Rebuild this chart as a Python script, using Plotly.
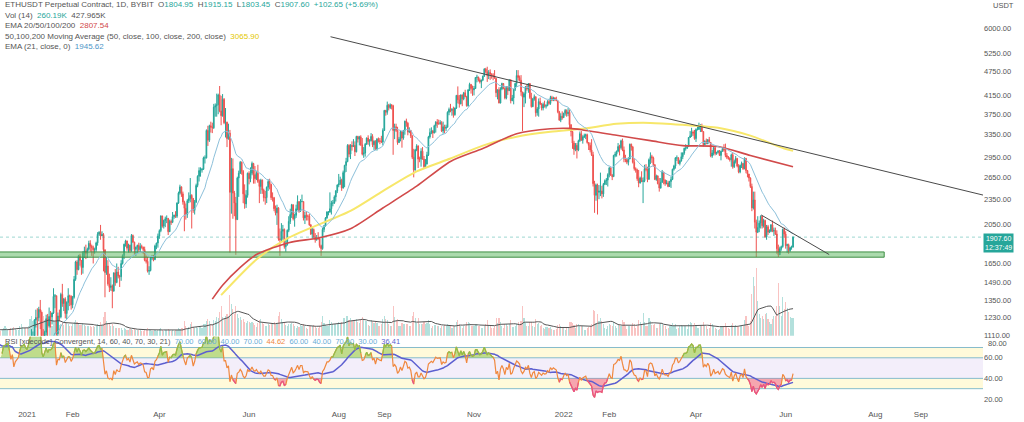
import numpy as np
import pandas as pd
import plotly.graph_objects as go

# ---------------- data (daily candles) ----------------
start_date = "2020-12-01"
first_open = 615

close = [
 588,598,616,569,596,601,592,554,573,560,545,568,590,586,589,636,642,654,658,638,609,635,584,612,626,636,683,731,732,751,737,
 730,775,980,1040,1100,1208,1225,1224,1281,1262,1088,1045,1130,1218,1171,1233,1230,1257,1377,1382,1121,1236,1230,1392,1324,1357,1253,1332,1382,1377,1314,
 1370,1512,1664,1595,1722,1678,1614,1750,1768,1744,1784,1843,1815,1800,1779,1781,1848,1937,1960,1920,1935,1780,1570,1627,1475,1446,1459,1417,
 1567,1487,1574,1540,1534,1650,1724,1834,1868,1795,1825,1771,1924,1855,1783,1805,1823,1780,1812,1805,1782,1680,1670,1582,1587,1700,1716,1686,1817,1846,1918,
 1977,2143,2027,2090,2110,2114,1965,2080,2070,2135,2150,2140,2300,2430,2515,2420,2315,2235,2160,2330,2360,2400,2360,2210,2315,2535,2665,2750,2760,2770,
 2950,2950,3430,3250,3520,3490,3480,3900,3930,3950,4170,3820,3720,4070,3580,3590,3280,3380,2440,2780,2430,2300,2100,2640,2710,2880,2740,2420,2290,2400,2710,
 2630,2710,2860,2690,2630,2710,2590,2520,2610,2470,2370,2370,2510,2590,2550,2370,2370,2230,2180,2240,1890,1880,1970,1990,1810,1830,1980,2080,2160,2280,
 2110,2150,2230,2320,2200,2320,2320,2120,2150,2140,2140,2040,1940,1990,1910,1880,1900,1890,1820,1790,1990,2030,2120,2190,2190,2230,2300,2300,2380,2460,2540,
 2560,2610,2500,2720,2830,2890,3160,3010,3160,3140,3160,3050,3320,3270,3310,3170,3010,3030,3180,3290,3230,3240,3320,3170,3230,3100,3270,3240,3230,3220,3430,
 3830,3790,3940,3890,3950,3930,3430,3500,3430,3210,3270,3410,3290,3430,3610,3570,3400,3430,3330,2960,2760,3080,3150,2930,2930,3060,2930,2810,2850,3000,
 3310,3390,3420,3380,3520,3590,3560,3560,3580,3420,3500,3470,3490,3790,3850,3830,3850,3740,3880,4160,4060,3970,4170,4080,4220,4130,3930,4290,4420,4320,4290,
 4320,4590,4600,4530,4480,4520,4620,4810,4740,4640,4720,4670,4650,4630,4570,4220,4290,3990,4310,4440,4320,4100,4360,4270,4520,4040,4100,4300,4440,4640,
 4590,4520,4240,4120,4200,4360,4310,4440,4110,3910,4080,4130,3780,3860,4020,3960,3880,3960,3920,3930,4020,3980,4110,4050,4100,4070,4040,3800,3630,3710,3680,
 3770,3830,3760,3790,3540,3410,3200,3090,3160,3080,3240,3370,3250,3310,3330,3350,3210,3160,3080,3000,2560,2400,2540,2440,2460,2460,2420,2550,2600,2610,2690,
 2790,2680,2660,2990,3010,3060,3140,3120,3240,3080,2930,2920,2880,2930,3180,3130,2880,2780,2760,2630,2570,2640,2590,2600,2780,2770,2620,2920,
 2970,2950,2840,2620,2670,2560,2500,2580,2730,2610,2560,2570,2520,2590,2620,2770,2820,2950,2950,2860,2900,2970,3030,3110,3110,3140,3300,3330,3400,3380,3280,
 3450,3450,3520,3520,3410,3170,3230,3190,3260,3210,2980,3030,3120,3020,3040,3060,2990,3060,3100,3080,2990,2960,2940,2920,3000,2810,2890,2940,2820,2730,
 2830,2860,2780,2940,2750,2700,2640,2520,2240,2340,2070,1960,2010,2060,2140,2030,2090,1910,2020,1960,1970,2040,1970,1980,1940,1790,1730,1790,1810,1990,1940,
 1820,1830,1770,1800,1805,1907.6,
]

high = [
 620,605,625,622,600,610,605,598,580,580,565,570,595,595,600,640,676,664,666,660,642,640,639,617,630,648,690,747,744,755,754,
 750,790,1010,1150,1135,1215,1280,1290,1300,1350,1265,1150,1140,1245,1250,1295,1270,1260,1440,1395,1382,1260,1280,1405,1475,1365,1370,1340,1440,1390,1385,
 1380,1540,1675,1680,1730,1740,1680,1765,1810,1830,1800,1870,1875,1830,1820,1800,1860,1960,1970,2040,1970,1950,1780,1710,1680,1560,1530,1470,
 1570,1600,1650,1620,1550,1680,1735,1840,1880,1870,1840,1830,1940,1935,1860,1810,1830,1850,1845,1830,1810,1810,1725,1710,1625,1710,1730,1730,1830,1850,1945,
 1990,2150,2145,2100,2135,2150,2120,2100,2100,2190,2160,2200,2310,2450,2545,2520,2450,2330,2295,2350,2440,2640,2415,2365,2340,2560,2680,2800,2800,2790,
 2970,2990,3450,3520,3540,3600,3580,3970,3980,4200,4200,4380,4150,4190,4100,3880,3600,3560,3440,2950,2940,2460,2380,2660,2750,2900,2890,2760,2550,2470,2720,
 2740,2800,2890,2870,2820,2740,2840,2620,2630,2620,2490,2460,2520,2620,2630,2560,2440,2380,2270,2280,2250,2000,2060,2040,2000,1880,1990,2140,2230,2290,
 2280,2170,2280,2400,2320,2350,2410,2320,2190,2200,2160,2170,2050,2010,2000,1950,1930,1960,1900,1830,2010,2040,2130,2200,2200,2440,2330,2340,2400,2470,2550,
 2700,2660,2630,2750,2840,2950,3180,3180,3180,3230,3270,3230,3330,3330,3330,3340,3290,3130,3200,3300,3340,3270,3380,3360,3250,3250,3290,3300,3290,3330,3470,
 3840,3840,4020,3970,3980,3960,3950,3560,3560,3500,3310,3430,3420,3440,3620,3660,3590,3490,3440,3340,3100,3100,3180,3160,2970,3110,3130,2980,2930,3050,
 3330,3470,3490,3440,3540,3610,3650,3640,3630,3610,3600,3540,3540,3810,3890,3970,3880,3910,3890,4170,4370,4170,4180,4180,4240,4290,4150,4300,4460,4420,4390,
 4380,4600,4660,4610,4570,4540,4640,4830,4840,4870,4780,4800,4700,4700,4780,4580,4300,4350,4350,4460,4450,4350,4380,4370,4550,4550,4170,4310,4460,4780,
 4780,4640,4650,4240,4230,4380,4420,4450,4450,4220,4100,4180,4130,3900,4090,4110,3990,4000,4040,3960,4050,4060,4150,4150,4130,4120,4130,4040,3820,3770,3810,
 3780,3860,3850,3880,3850,3550,3420,3240,3200,3200,3260,3410,3420,3340,3370,3370,3370,3210,3210,3270,3050,2600,2560,2560,2540,2720,2530,2570,2620,2640,2710,
 2810,2800,2700,3000,3050,3070,3200,3170,3260,3280,3140,3000,2950,2960,3190,3190,3150,2930,2800,2780,2760,2660,2740,2650,2840,2850,2810,2940,
 3040,3000,2970,2850,2690,2680,2640,2640,2760,2730,2620,2610,2600,2600,2660,2780,2840,2960,2990,2960,2920,3040,3040,3120,3180,3150,3300,3420,3480,3430,3440,
 3470,3530,3580,3550,3560,3410,3250,3280,3270,3310,3220,3080,3150,3130,3050,3080,3080,3070,3120,3180,3190,3030,2980,2960,3020,3030,2920,2980,2950,2850,
 2840,2890,2870,2960,2950,2760,2700,2650,2560,2450,2450,2100,2140,2090,2150,2140,2110,2100,2040,2040,1990,2050,2090,2010,2010,1980,1830,1810,1820,2000,2010,
 1970,1840,1840,1810,1820,1915.15,
]

low = [
 570,570,590,560,560,590,586,540,535,555,532,545,565,575,580,587,630,632,646,620,603,597,583,577,600,620,632,677,705,728,720,
 715,715,770,900,990,1060,1160,1050,1200,1150,950,1030,1030,1110,1100,1160,1160,1180,1250,1290,1110,1030,1200,1220,1300,1270,1220,1215,1275,1305,1280,
 1290,1360,1500,1550,1590,1630,1550,1560,1700,1690,1700,1770,1760,1720,1650,1740,1760,1820,1920,1880,1920,1580,1370,1550,1460,1410,1420,1290,
 1415,1460,1480,1520,1450,1500,1640,1690,1810,1770,1750,1750,1760,1850,1730,1720,1740,1760,1760,1790,1740,1670,1650,1570,1550,1580,1680,1670,1680,1785,1800,
 1890,1960,2010,2000,2015,2060,1930,1970,2040,2060,2110,2120,2120,2290,2410,2380,2280,1970,2100,2120,2300,2310,2000,2180,2160,2300,2510,2590,2660,2720,
 2760,2860,2940,3150,3220,3390,3380,3460,3700,3700,3750,3790,3530,3700,3550,3300,3130,3260,1750,2170,2110,2140,1730,2100,2380,2700,2690,2300,2230,2240,2370,
 2550,2580,2680,2560,2560,2610,2570,2300,2420,2420,2320,2280,2300,2460,2480,2340,2320,2200,2150,2040,1870,1720,1860,1880,1790,1760,1820,1960,2050,2120,
 2090,2020,2120,2210,2180,2190,2310,2090,2050,2090,2090,2030,1930,1890,1890,1850,1870,1880,1800,1720,1780,1960,2020,2110,2150,2180,2160,2260,2290,2320,2430,
 2510,2540,2460,2490,2510,2730,2880,2960,2930,3070,3130,2980,3040,3210,3160,3150,2990,2950,2970,3170,3170,3140,3230,3130,3080,3080,3070,3210,3180,3200,3160,
 3420,3720,3740,3830,3860,3850,3000,3270,3400,3170,3200,3230,3120,3260,3350,3500,3340,3380,3290,2930,2650,2750,3060,2790,2880,2810,2920,2780,2790,2850,
 2980,3280,3360,3290,3380,3390,3480,3540,3540,3400,3370,3380,3420,3490,3730,3790,3720,3680,3720,3860,3980,3890,3960,3920,4050,4120,3910,3910,4260,4200,4150,
 4160,4310,4470,4490,4440,4330,4510,4610,4700,4480,4550,4530,4560,4520,4560,4120,4070,3980,3980,4280,4300,4070,4070,4170,4260,3980,4030,3960,4260,4360,
 4510,4490,4150,3420,3900,3980,4270,4220,4080,3890,3900,4040,3700,3720,3700,3950,3830,3830,3890,3870,3920,3950,3950,4030,4030,4030,4030,3770,3620,3590,3640,
 3680,3720,3700,3710,3420,3320,3100,3000,3060,2940,3060,3220,3240,3190,3290,3270,3190,3080,3040,2980,2520,2180,2330,2160,2350,2390,2360,2380,2540,2540,2520,
 2650,2670,2610,2660,2960,2970,3040,2990,3090,3060,2880,2880,2850,2830,2930,3070,2860,2750,2720,2600,2510,2560,2580,2300,2580,2740,2580,2620,
 2850,2870,2810,2610,2600,2550,2450,2490,2570,2550,2530,2550,2510,2520,2500,2610,2750,2780,2900,2850,2830,2890,2930,3000,3070,3100,3130,3290,3310,3330,3260,
 3220,3430,3440,3400,3400,3140,3160,3180,3180,3200,2960,2950,2990,2990,3000,3020,2980,2910,3050,3050,2960,2930,2920,2890,2810,2780,2790,2860,2800,2710,
 2710,2790,2760,2770,2710,2650,2590,2500,2200,2220,2000,1710,1950,1960,2000,2000,2010,1900,1880,1930,1950,1960,1960,1920,1930,1740,1710,1730,1770,1800,1900,
 1790,1750,1740,1760,1780,1803.45,
]

volume_k = [
 110,90,90,110,90,70,70,110,110,80,90,70,70,70,80,120,150,110,80,90,110,110,130,100,80,90,150,180,130,120,110,
 120,140,250,300,220,200,210,250,170,220,380,300,230,200,210,160,140,150,240,200,300,250,160,170,200,160,210,190,180,150,140,
 170,210,230,210,180,160,160,190,160,150,140,150,140,130,140,130,140,180,160,200,150,280,360,220,190,170,140,180,
 150,120,110,110,120,110,90,110,100,90,90,100,100,90,100,90,80,90,80,70,70,90,90,110,100,80,70,70,80,70,90,
 100,110,90,70,80,80,100,80,70,80,70,80,90,110,100,110,120,220,140,110,130,170,210,130,120,130,120,140,130,120,
 170,170,220,250,220,180,170,230,220,280,260,350,440,280,260,290,330,300,600,480,400,320,450,320,260,280,230,250,210,190,220,
 210,190,200,190,160,130,190,230,250,190,170,150,150,170,160,190,170,210,180,170,290,360,250,200,200,160,150,180,180,190,
 170,150,120,140,130,160,150,180,150,110,100,140,150,150,160,150,110,110,150,200,290,190,160,150,140,230,200,180,170,170,180,
 200,190,200,260,260,290,300,230,260,220,220,230,250,210,190,250,280,230,220,220,160,150,230,220,190,200,190,150,150,170,250,
 300,250,230,170,150,150,450,280,220,250,150,150,190,180,180,180,180,140,140,300,350,270,190,260,170,180,170,200,180,190,
 240,170,120,150,160,160,150,140,110,140,150,160,150,170,160,140,120,150,150,200,230,180,140,120,140,150,210,210,190,150,140,
 140,180,180,150,140,120,120,150,170,240,160,140,110,110,140,270,190,260,200,140,120,180,180,150,170,240,130,130,150,180,
 200,160,220,450,270,210,150,150,200,210,150,130,250,180,190,150,160,120,100,130,130,120,130,100,80,80,100,160,170,150,130,
 110,90,110,120,200,210,190,160,120,180,170,150,150,140,90,90,110,130,140,170,380,370,190,320,220,270,220,180,120,100,140,
 170,160,150,210,140,110,160,170,150,230,200,140,100,140,150,140,190,180,120,140,240,200,180,340,210,150,150,260,
 220,160,160,170,120,110,180,190,170,160,140,100,110,150,150,190,150,170,100,110,150,160,140,150,140,100,170,200,190,160,190,
 160,120,120,140,150,210,150,140,100,110,190,170,140,120,100,90,100,140,140,140,190,150,110,100,160,190,150,160,140,140,
 150,140,150,240,290,180,140,220,620,870,740,1010,520,330,270,300,250,320,340,250,200,180,250,300,300,450,790,450,300,580,400,
 500,420,360,280,260,260,
]

# long moving averages (EMA 200 red, SMA 200 yellow)
ema200_dates = ["2021-05-07","2021-05-14","2021-05-26","2021-06-06","2021-06-28","2021-07-19","2021-08-09",
                "2021-08-31","2021-09-23","2021-10-16","2021-11-07","2021-11-30","2021-12-23","2022-01-05",
                "2022-01-14","2022-02-06","2022-03-01","2022-03-23","2022-04-16","2022-05-08","2022-06-06"]
ema200_vals = [1356,1464,1615,1733,1850,1901,1997,2239,2524,2892,3105,3369,3462,3470,3440,3340,3243,3156,3139,2989,2808]

ma200_dates = ["2021-05-13","2021-06-06","2021-06-28","2021-08-09","2021-08-31","2021-09-23","2021-10-16",
               "2021-11-07","2021-11-30","2021-12-23","2022-01-14","2022-02-06","2022-03-01","2022-03-23",
               "2022-04-16","2022-05-08","2022-05-31","2022-06-06"]
ma200_vals = [1386,1686,1901,2203,2457,2738,2939,3156,3315,3406,3462,3557,3576,3538,3480,3333,3105,3066]

# drawn objects
trend_dates = ["2021-07-26 10:00", "2022-10-13 05:00"]
trend_vals = [5744, 2404]
trend2_dates = ["2022-05-15 07:00", "2022-06-30 14:00"]
trend2_vals = [2155, 1733]
support_dates = ["2020-12-10", "2022-08-07"]
support_low, support_high = 1708, 1758
last_price = 1907.60

x_tickvals = ["2021-01-01","2021-02-01","2021-04-01","2021-06-01","2021-08-01","2021-09-01","2021-11-01",
              "2022-01-01","2022-02-01","2022-04-01","2022-06-01","2022-08-01","2022-09-01"]
x_ticktext = ["2021","Feb","Apr","Jun","Aug","Sep","Nov","2022","Feb","Apr","Jun","Aug","Sep"]
price_ticks = [6000,5250,4750,4150,3750,3350,2950,2650,2350,2050,1650,1490,1350,1230,1110]
rsi_ticks = [60,40,20]
rsi_top_label = "80.00"
rsi_levels = [70,60,40,30]

# ---------------- derived series ----------------
n = len(close)
assert len(high) == n and len(low) == n and len(volume_k) == n, (n, len(high), len(low), len(volume_k))
dates = pd.date_range(start_date, periods=n, freq="D")
open_ = [first_open] + close[:-1]
cs = pd.Series(close, dtype=float)
ema21 = cs.ewm(span=21, adjust=False).mean()
d = cs.diff()
ag = d.clip(lower=0).ewm(alpha=1/14, adjust=False).mean()
al = (-d.clip(upper=0)).ewm(alpha=1/14, adjust=False).mean()
rsi = 100 - 100/(1 + ag/al)
rsi_sig = rsi.rolling(21, min_periods=8).mean()
rsi[:14] = np.nan
vol_ma = pd.Series(volume_k, dtype=float).rolling(14, min_periods=1).mean()

UP, DN = "#26a69a", "#ef5350"
W, H = 1024, 422
PR = 983  # right edge of plot area (px)
def py(p):
    return 1 - p / H

x_left, x_right = "2020-12-13 14:24", "2022-10-13 05:00"

fig = go.Figure()

# volume
vcol = ["rgba(38,166,154,0.35)" if c >= o else "rgba(239,83,80,0.35)" for o, c in zip(open_, close)]
fig.add_trace(go.Bar(x=dates, y=volume_k, marker=dict(color=vcol, line=dict(width=0)),
                     width=86400000*0.75, yaxis="y3", hoverinfo="skip"))
fig.add_trace(go.Scatter(x=dates, y=vol_ma, mode="lines", line=dict(color="#555555", width=1),
                         yaxis="y3", hoverinfo="skip"))

# support band
fig.add_trace(go.Scatter(x=[support_dates[0], support_dates[1], support_dates[1], support_dates[0], support_dates[0]],
                         y=[support_low, support_low, support_high, support_high, support_low],
                         mode="lines", fill="toself", fillcolor="rgba(102,187,106,0.55)",
                         line=dict(color="#3f8f45", width=1), yaxis="y", hoverinfo="skip"))

# price line
fig.add_trace(go.Scatter(x=[x_left, x_right], y=[last_price, last_price], mode="lines",
                         line=dict(color="rgba(38,166,154,0.45)", width=1, dash="dot"), yaxis="y", hoverinfo="skip"))

# moving averages
fig.add_trace(go.Scatter(x=ma200_dates, y=ma200_vals, mode="lines",
                         line=dict(color="#f7e76a", width=2, shape="spline", smoothing=0.7),
                         yaxis="y", hoverinfo="skip"))
fig.add_trace(go.Scatter(x=ema200_dates, y=ema200_vals, mode="lines",
                         line=dict(color="#d14a4a", width=1.6, shape="spline", smoothing=0.7),
                         yaxis="y", hoverinfo="skip"))
fig.add_trace(go.Scatter(x=dates, y=ema21, mode="lines", line=dict(color="#8cc0da", width=1), yaxis="y", hoverinfo="skip"))

# candles
fig.add_trace(go.Candlestick(x=dates, open=open_, high=high, low=low, close=close,
                             increasing=dict(line=dict(color=UP, width=1), fillcolor=UP),
                             decreasing=dict(line=dict(color=DN, width=1), fillcolor=DN),
                             whiskerwidth=0, yaxis="y", hoverinfo="skip"))

# trend lines
fig.add_trace(go.Scatter(x=trend_dates, y=trend_vals, mode="lines", line=dict(color="#4a4a4a", width=1), yaxis="y", hoverinfo="skip"))
fig.add_trace(go.Scatter(x=trend2_dates, y=trend2_vals, mode="lines", line=dict(color="#4a4a4a", width=1), yaxis="y", hoverinfo="skip"))

# RSI fills
hi_base = [60] * n
lo_base = [40] * n
fig.add_trace(go.Scatter(x=dates, y=hi_base, mode="lines", line=dict(width=0), yaxis="y2", hoverinfo="skip"))
fig.add_trace(go.Scatter(x=dates, y=np.fmax(rsi, 60), mode="lines", line=dict(width=0), fill="tonexty",
                         fillcolor="rgba(139,195,74,0.55)", yaxis="y2", hoverinfo="skip"))
fig.add_trace(go.Scatter(x=dates, y=lo_base, mode="lines", line=dict(width=0), yaxis="y2", hoverinfo="skip"))
fig.add_trace(go.Scatter(x=dates, y=np.fmin(rsi, 40), mode="lines", line=dict(width=0), fill="tonexty",
                         fillcolor="rgba(236,64,122,0.45)", yaxis="y2", hoverinfo="skip"))
fig.add_trace(go.Scatter(x=dates, y=rsi_sig, mode="lines", line=dict(color="#5c5fd0", width=1.5), yaxis="y2", hoverinfo="skip"))
fig.add_trace(go.Scatter(x=dates, y=rsi, mode="lines", line=dict(color="#f0883e", width=1.2), yaxis="y2", hoverinfo="skip"))
fig.add_trace(go.Scatter(x=dates, y=rsi.where(rsi >= 60), mode="lines", line=dict(color="#8bc34a", width=1.2), yaxis="y2", hoverinfo="skip"))
fig.add_trace(go.Scatter(x=dates, y=rsi.where(rsi <= 40), mode="lines", line=dict(color="#e8508a", width=1.2), yaxis="y2", hoverinfo="skip"))

shapes = [
    dict(type="rect", xref="x domain", yref="y2", x0=0, x1=1, y0=60, y1=70, fillcolor="rgba(255,241,150,0.35)", line=dict(width=0), layer="below"),
    dict(type="rect", xref="x domain", yref="y2", x0=0, x1=1, y0=40, y1=60, fillcolor="rgba(190,160,230,0.18)", line=dict(width=0), layer="below"),
    dict(type="rect", xref="x domain", yref="y2", x0=0, x1=1, y0=30, y1=40, fillcolor="rgba(255,241,150,0.35)", line=dict(width=0), layer="below"),
]
for lv in rsi_levels:
    shapes.append(dict(type="line", xref="x domain", yref="y2", x0=0, x1=1, y0=lv, y1=lv,
                       line=dict(color="#86bccb", width=1), layer="below"))

TXT = "#555555"
FONT = "Liberation Sans, Arial, sans-serif"
def span(t, c):
    return f'<span style="color:{c}">{t}</span>'

hdr = [
    "ETHUSDT Perpetual Contract, 1D, BYBIT  O" + span("1804.95", UP) + "  H" + span("1915.15", UP) + "  L" + span("1803.45", UP)
    + "  C" + span("1907.60", UP) + "  " + span("+102.65 (+5.69%)", UP),
    "Vol (14)  " + span("260.19K", UP) + "  427.965K",
    "EMA 20/50/100/200  " + span("2807.54", "#d14a4a"),
    "50,100,200 Moving Average (50, close, 100, close, 200, close)  " + span("3065.90", "#e3c800"),
    "EMA (21, close, 0)  " + span("1945.62", "#4c96c8"),
]
hdr_y = [5, 15.5, 26, 36.5, 47]
annotations = []
for t, yy in zip(hdr, hdr_y):
    annotations.append(dict(x=3/W, y=py(yy), xref="paper", yref="paper", text=t, showarrow=False,
                            xanchor="left", yanchor="middle", font=dict(size=8, color=TXT, family=FONT)))
rsi_txt = ("RSI [xdecode] Convergent, 14, 60, 40, 70, 30, 21)  " + span("70.00", "#6aaed6") + "  " + span("60.00", "#6aaed6")
           + "  " + span("40.00", "#6aaed6") + "  " + span("70.00", "#6aaed6") + "  " + span("44.62", "#f0883e")
           + "  " + span("60.00", "#6aaed6") + "  " + span("40.00", "#6aaed6") + "  " + span("70.00", "#6aaed6")
           + "  " + span("30.00", "#6aaed6") + "  " + span("36.41", "#5c5fd0"))
annotations.append(dict(x=3/W, y=py(345), xref="paper", yref="paper", text=rsi_txt, showarrow=False,
                        xanchor="left", yanchor="middle", font=dict(size=7.5, color=TXT, family=FONT)))
annotations.append(dict(x=1003/W, y=py(6), xref="paper", yref="paper", text="USDT", showarrow=False,
                        xanchor="center", yanchor="middle", font=dict(size=7.5, color=TXT, family=FONT)))
annotations.append(dict(x=PR/W, y=py(245.5), xref="paper", yref="paper", text="1907.60<br>12:37:49", showarrow=False,
                        xanchor="left", yanchor="middle", bgcolor=UP, borderpad=1, align="center",
                        font=dict(size=7, color="white", family=FONT)))
# top RSI scale label, nudged just below the 1110.00 price label
annotations.append(dict(x=(PR + 3)/W, y=py(347), xref="paper", yref="paper", text=rsi_top_label, showarrow=False,
                        xanchor="left", yanchor="middle", font=dict(size=7.5, color=TXT, family=FONT)))

fig.update_layout(
    width=W, height=H, margin=dict(l=0, r=0, t=0, b=0),
    paper_bgcolor="white", plot_bgcolor="white", showlegend=False,
    font=dict(family=FONT, size=8, color=TXT),
    xaxis=dict(domain=[0, PR/W], range=[x_left, x_right], type="date", anchor="y2",
               tickvals=x_tickvals, ticktext=x_ticktext, showgrid=False, zeroline=False, showline=False,
               ticks="", ticklabelstandoff=4, rangeslider=dict(visible=False),
               tickfont=dict(size=8, color=TXT, family=FONT)),
    yaxis=dict(domain=[py(339), 1], type="log", range=[np.log10(1108.5), np.log10(7030)], side="right", anchor="x",
               tickvals=price_ticks, ticktext=[f"{v:.2f}" for v in price_ticks], showgrid=False, zeroline=False,
               ticks="", tickfont=dict(size=7.5, color=TXT, family=FONT)),
    yaxis2=dict(domain=[py(408), py(340)], range=[15, 80.4], side="right", anchor="x",
                tickvals=rsi_ticks, ticktext=[f"{v:.2f}" for v in rsi_ticks], showgrid=False, zeroline=False,
                ticks="", tickfont=dict(size=7.5, color=TXT, family=FONT)),
    yaxis3=dict(domain=[py(339), 1], overlaying="y", range=[0, 5000], visible=False, anchor="x"),
    shapes=shapes, annotations=annotations, bargap=0,
)

fig.write_html("out.html")
